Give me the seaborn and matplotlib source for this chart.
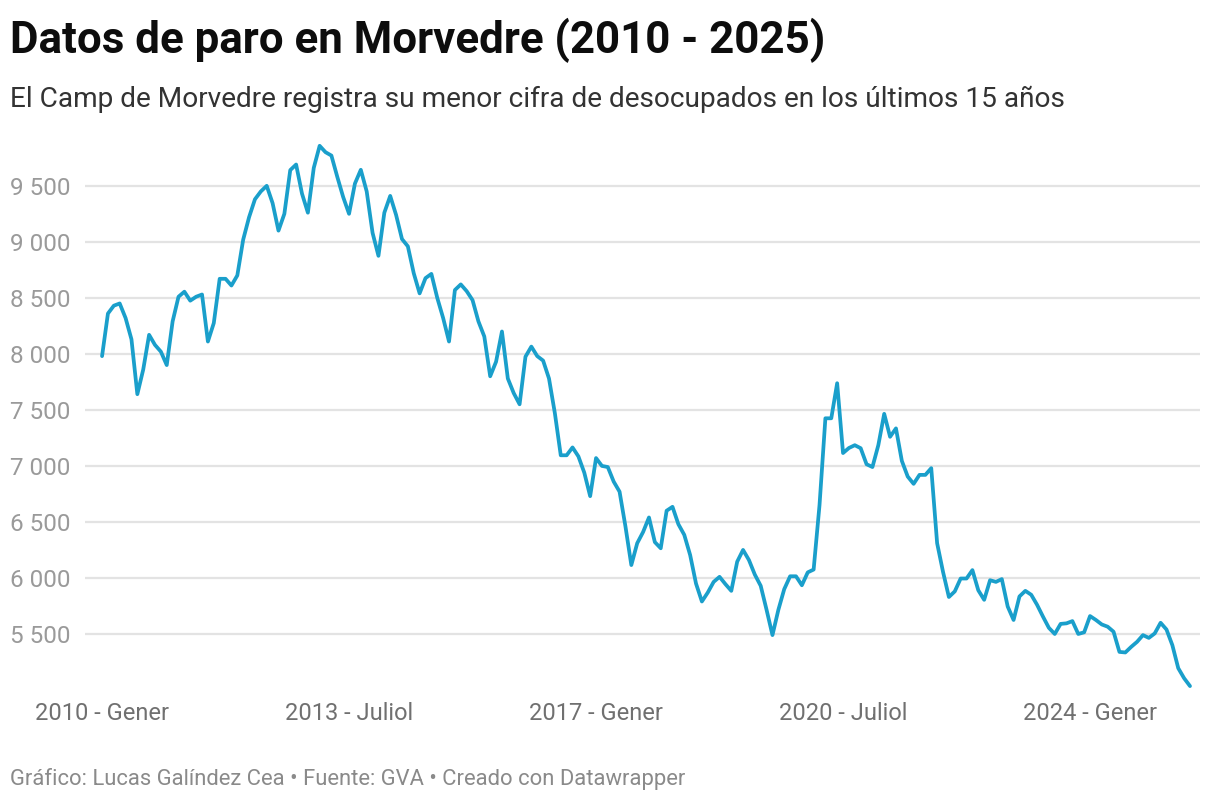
import matplotlib
matplotlib.use('Agg')
import matplotlib.pyplot as plt
import seaborn as sns
import pandas as pd

# monthly unemployment figures, Jan 2010 - Jun 2025
paro_2010 = [7980, 8360, 8430, 8450, 8320, 8130, 7640, 7860, 8170, 8080, 8020, 7900]
paro_2011 = [8290, 8510, 8555, 8475, 8510, 8530, 8110, 8275, 8670, 8670, 8610, 8700]
paro_2012 = [9020, 9220, 9380, 9450, 9500, 9345, 9100, 9250, 9640, 9690, 9430, 9260]
paro_2013 = [9660, 9857, 9800, 9770, 9580, 9400, 9250, 9520, 9643, 9450, 9080, 8875]
paro_2014 = [9260, 9410, 9240, 9025, 8960, 8720, 8540, 8676, 8714, 8500, 8320, 8110]
paro_2015 = [8570, 8620, 8560, 8480, 8290, 8155, 7800, 7930, 8200, 7780, 7650, 7550]
paro_2016 = [7975, 8065, 7980, 7940, 7780, 7470, 7095, 7095, 7165, 7085, 6940, 6730]
paro_2017 = [7070, 7000, 6990, 6860, 6770, 6460, 6115, 6310, 6410, 6540, 6320, 6265]
paro_2018 = [6600, 6635, 6480, 6385, 6205, 5950, 5790, 5870, 5965, 6010, 5945, 5885]
paro_2019 = [6145, 6250, 6160, 6030, 5930, 5715, 5490, 5715, 5900, 6015, 6015, 5935]
paro_2020 = [6050, 6075, 6650, 7425, 7425, 7738, 7115, 7160, 7185, 7158, 7015, 6990]
paro_2021 = [7185, 7465, 7260, 7335, 7045, 6905, 6840, 6920, 6920, 6980, 6310, 6055]
paro_2022 = [5830, 5880, 5995, 5995, 6070, 5890, 5805, 5980, 5965, 5990, 5745, 5625]
paro_2023 = [5835, 5885, 5850, 5760, 5655, 5555, 5500, 5590, 5595, 5615, 5500, 5515]
paro_2024 = [5660, 5625, 5585, 5565, 5520, 5340, 5335, 5385, 5430, 5490, 5465, 5505]
paro_2025 = [5600, 5540, 5400, 5195, 5105, 5035]

years = list(range(2010, 2026))
mesos = ['Gener', 'Febrer', 'Març', 'Abril', 'Maig', 'Juny', 'Juliol',
         'Agost', 'Setembre', 'Octubre', 'Novembre', 'Desembre']

values = (paro_2010 + paro_2011 + paro_2012 + paro_2013 + paro_2014 + paro_2015
          + paro_2016 + paro_2017 + paro_2018 + paro_2019 + paro_2020 + paro_2021
          + paro_2022 + paro_2023 + paro_2024 + paro_2025)
labels = [f'{y} - {m}' for y in years for m in mesos][:len(values)]

df = pd.DataFrame({'idx': range(len(values)), 'mes': labels, 'paro': values})

x_ticks = [0, 42, 84, 126, 168]
y_ticks = [5500, 6000, 6500, 7000, 7500, 8000, 8500, 9000, 9500]

sns.set_style('white')
plt.rcParams['font.family'] = ['Roboto', 'DejaVu Sans']

fig = plt.figure(figsize=(12.2, 8.02), dpi=100)
ax = fig.add_axes([85/1220, 1 - 690/802, 1115/1220, 549/802])

sns.lineplot(data=df, x='idx', y='paro', ax=ax, color='#1a9fcb', linewidth=2.7)

ax.set_xlim(-2.9, len(values) - 1 + 1.7)
ax.set_ylim(5000, 9900)

ax.set_yticks(y_ticks)
ax.set_yticklabels([f'{v:,}'.replace(',', ' ') for v in y_ticks])
ax.set_xticks(x_ticks)
ax.set_xticklabels([df['mes'][i] for i in x_ticks])

ax.grid(axis='y', color='#e3e3e3', linewidth=1.6)
ax.grid(axis='x', visible=False)
ax.tick_params(axis='y', length=0, pad=54, labelsize=17.5, labelcolor='#9a9a9a')
ax.tick_params(axis='x', length=0, pad=9, labelsize=17, labelcolor='#707070')
for lab in ax.get_yticklabels():
    lab.set_horizontalalignment('left')
for s in ax.spines.values():
    s.set_visible(False)
ax.set_xlabel('')
ax.set_ylabel('')

fig.text(10/1220, 1 - 53/802, 'Datos de paro en Morvedre (2010 - 2025)',
         fontsize=31.6, fontweight='bold', color='#0d0d0d', va='baseline')
fig.text(10/1220, 1 - 107/802,
         'El Camp de Morvedre registra su menor cifra de desocupados en los últimos 15 años',
         fontsize=20.15, color='#333333', va='baseline')
fig.text(10/1220, 1 - 785/802,
         'Gráfico: Lucas Galíndez Cea • Fuente: GVA • Creado con Datawrapper',
         fontsize=15.8, color='#8a8a8a', va='baseline')

fig.savefig('out.png', dpi=100)
